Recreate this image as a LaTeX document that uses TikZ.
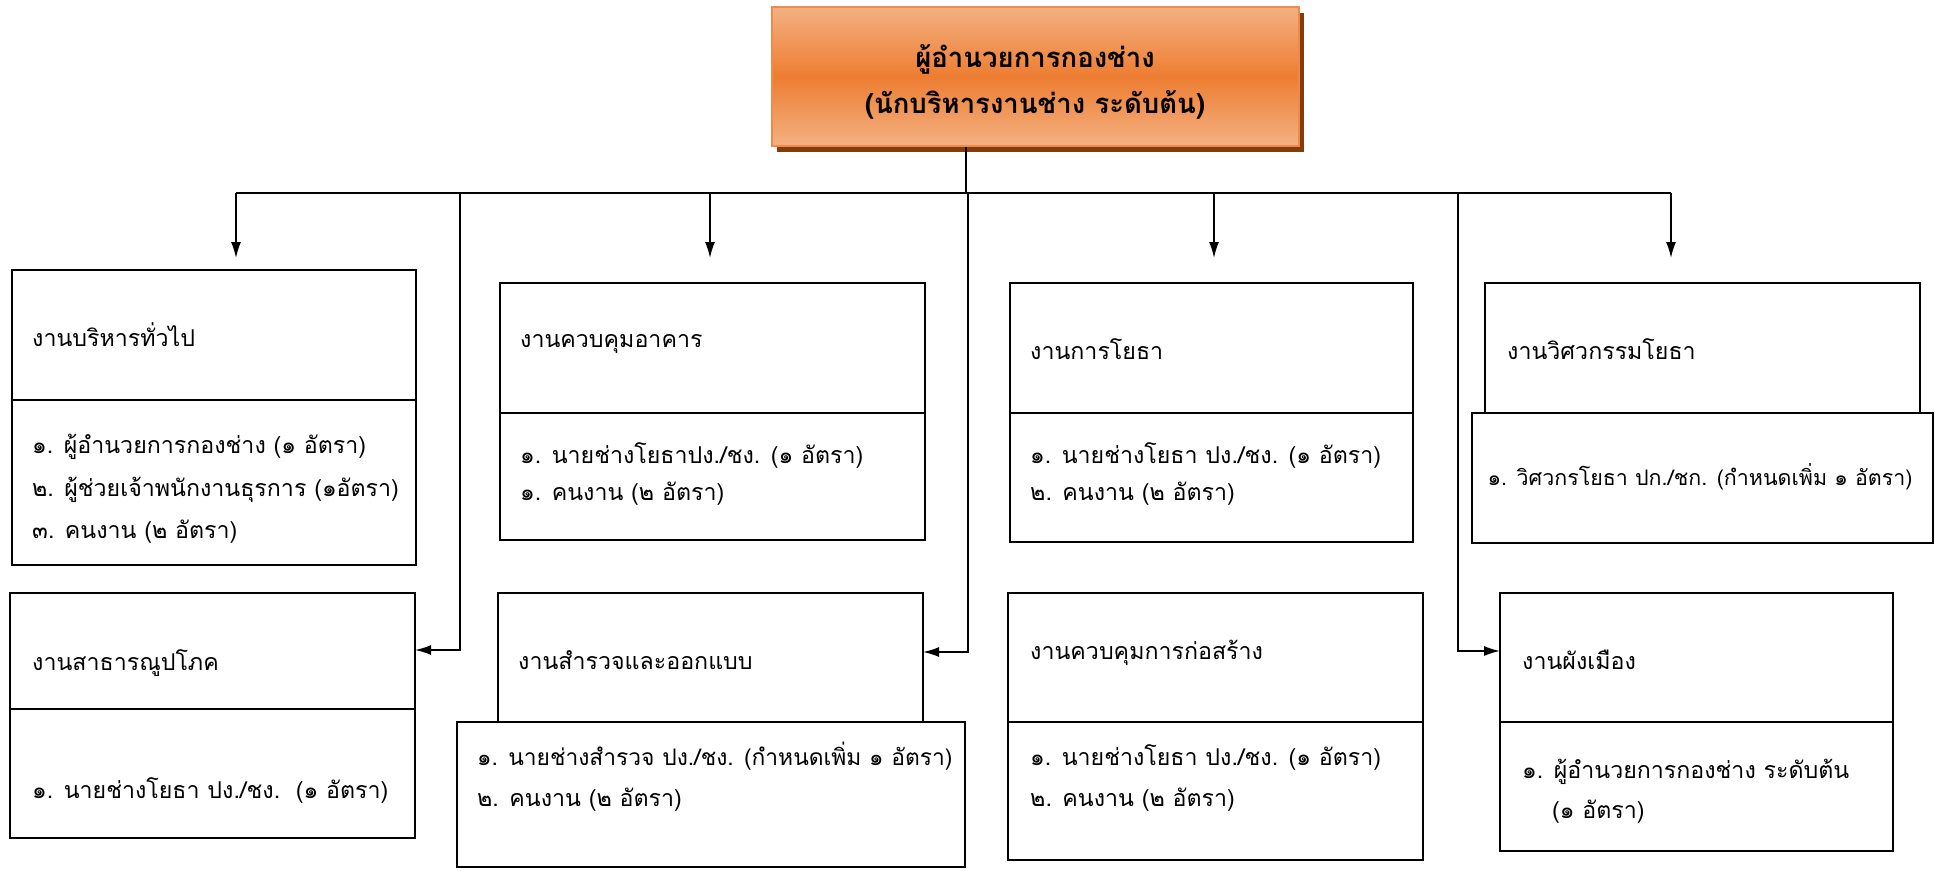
\documentclass[tikz,border=0pt]{standalone}
\usepackage{fontspec}
\setmainfont[Script=Thai]{Loma}
\usetikzlibrary{arrows.meta,shadows}
\definecolor{lightorange}{HTML}{F4B183}
\definecolor{midorange}{HTML}{ED7D31}
\definecolor{borderorange}{HTML}{F08A4B}
\definecolor{shadowbrown}{HTML}{843C0C}
\begin{document}
\begin{tikzpicture}[x=1pt,y=-1pt,
  box/.style={draw=black, line width=2pt, inner sep=0pt, outer sep=0pt, anchor=north west},
  lbl/.style={anchor=base west, inner sep=0pt, font=\fontsize{23.2}{27}\selectfont},
  clbl/.style={anchor=base, inner sep=0pt, font=\fontsize{21.4}{25}\selectfont},
  bosstxt/.style={anchor=base, inner sep=0pt, font=\fontsize{27.5}{32}\selectfont\bfseries},
  conn/.style={line width=1.6pt},
  bus/.style={line width=2.6pt},
  arr/.style={conn, -{Latex[length=16pt,width=10pt]}}
]
\useasboundingbox (0,0) rectangle (1935,870);
\fill[white] (0,0) rectangle (1935,870);

% boss box
\node[draw=borderorange, line width=2pt, minimum width=527pt, minimum height=139pt, inner sep=0pt,
  top color=lightorange, bottom color=lightorange, middle color=midorange,
  drop shadow={shadow xshift=5pt, shadow yshift=-6pt, fill=shadowbrown, opacity=1}] (boss) at (1035,76.5) {};
\node[bosstxt] (bossA) at (1035,67) {ผู้อำนวยการกองช่าง};
\node[bosstxt] (bossB) at (1035,113) {(นักบริหารงานช่าง ระดับต้น)};

% boxes
\node[box, minimum width=404pt, minimum height=130pt] (b1h) at (12,270) {};
\node[box, minimum width=404pt, minimum height=165pt] (b1b) at (12,400) {};
\node[box, minimum width=405pt, minimum height=116pt] (b2h) at (10,593) {};
\node[box, minimum width=405pt, minimum height=129pt] (b2b) at (10,709) {};
\node[box, minimum width=425pt, minimum height=130pt] (b3h) at (500,283) {};
\node[box, minimum width=425pt, minimum height=127pt] (b3b) at (500,413) {};
\node[box, minimum width=425pt, minimum height=129pt] (b4h) at (498,593) {};
\node[box, minimum width=508pt, minimum height=145pt] (b4b) at (457,722) {};
\node[box, minimum width=403pt, minimum height=130pt] (b5h) at (1010,283) {};
\node[box, minimum width=403pt, minimum height=129pt] (b5b) at (1010,413) {};
\node[box, minimum width=415pt, minimum height=129pt] (b6h) at (1008,593) {};
\node[box, minimum width=415pt, minimum height=138pt] (b6b) at (1008,722) {};
\node[box, minimum width=435pt, minimum height=130pt] (b7h) at (1485,283) {};
\node[box, minimum width=461pt, minimum height=130pt] (b7b) at (1472,413) {};
\node[box, minimum width=393pt, minimum height=129pt] (b8h) at (1500,593) {};
\node[box, minimum width=393pt, minimum height=129pt] (b8b) at (1500,722) {};

% texts
\node[lbl] (t1) at (32,346) {งานบริหารทั่วไป};
\node[lbl] (t1a) at (32,453) {๑. ผู้อำนวยการกองช่าง (๑ อัตรา)};
\node[lbl] (t1b) at (32,496) {๒. ผู้ช่วยเจ้าพนักงานธุรการ (๑อัตรา)};
\node[lbl] (t1c) at (32,538) {๓. คนงาน (๒ อัตรา)};

\node[lbl] (t2) at (32,670) {งานสาธารณูปโภค};
\node[lbl] (t2a) at (32,798) {๑. นายช่างโยธา ปง./ชง.~~(๑ อัตรา)};

\node[lbl] (t3) at (520,347) {งานควบคุมอาคาร};
\node[lbl] (t3a) at (520,463) {๑. นายช่างโยธาปง./ชง. (๑ อัตรา)};
\node[lbl] (t3b) at (520,500) {๑. คนงาน (๒ อัตรา)};

\node[lbl] (t4) at (518,669) {งานสำรวจและออกแบบ};
\node[lbl, font=\fontsize{22.8}{27}\selectfont] (t4a) at (477,765) {๑. นายช่างสำรวจ ปง./ชง. (กำหนดเพิ่ม ๑ อัตรา)};
\node[lbl] (t4b) at (477,806) {๒. คนงาน (๒ อัตรา)};

\node[lbl] (t5) at (1030,359) {งานการโยธา};
\node[lbl] (t5a) at (1030,463) {๑. นายช่างโยธา ปง./ชง. (๑ อัตรา)};
\node[lbl] (t5b) at (1030,500) {๒. คนงาน (๒ อัตรา)};

\node[lbl] (t6) at (1030,659) {งานควบคุมการก่อสร้าง};
\node[lbl] (t6a) at (1030,765) {๑. นายช่างโยธา ปง./ชง. (๑ อัตรา)};
\node[lbl] (t6b) at (1030,806) {๒. คนงาน (๒ อัตรา)};

\node[lbl] (t7) at (1507,359) {งานวิศวกรรมโยธา};
\node[clbl] (t7a) at (1700,485) {๑. วิศวกรโยธา ปก./ชก. (กำหนดเพิ่ม ๑ อัตรา)};

\node[lbl] (t8) at (1522,669) {งานผังเมือง};
\node[lbl] (t8a) at (1522,778) {๑. ผู้อำนวยการกองช่าง ระดับต้น};
\node[lbl] (t8b) at (1552,818) {(๑ อัตรา)};

% connectors
\coordinate (bj) at (966,193);
\draw[conn] (boss.south -| bj) -- (bj);
\coordinate (busL) at (236,193);
\coordinate (busR) at (1671,193);
\draw[bus] (busL) -- (busR);

\coordinate (j3) at (710,193);
\coordinate (j5) at (1214,193);
\coordinate (a1) at (236,258);
\coordinate (a3) at (710,258);
\coordinate (a5) at (1214,258);
\coordinate (a7) at (1671,258);
\draw[arr] (busL) -- (a1);
\draw[arr] (j3) -- (a3);
\draw[arr] (j5) -- (a5);
\draw[arr] (busR) -- (a7);

\coordinate (j2) at (460,193);
\coordinate (j4) at (968,193);
\coordinate (j8) at (1458,193);
\coordinate (m2) at (0,650);
\coordinate (m4) at (0,652);
\coordinate (m8) at (0,651);
\draw[arr] (j2) |- (b2h.east |- m2);
\draw[arr] (j4) |- (b4h.east |- m4);
\draw[arr] (j8) |- (b8h.west |- m8);
\end{tikzpicture}
\end{document}
